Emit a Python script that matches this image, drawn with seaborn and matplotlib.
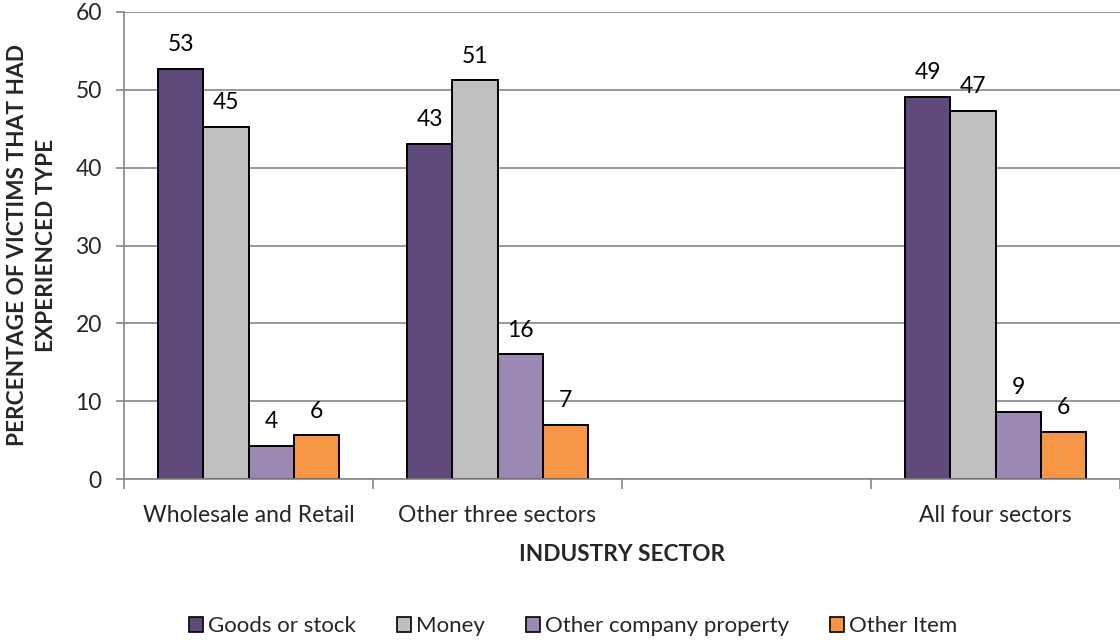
import matplotlib
matplotlib.use("Agg")
import matplotlib.pyplot as plt
import seaborn as sns
import pandas as pd
from matplotlib.ticker import FixedLocator, NullFormatter

# Sector slots along the x axis (the third slot is intentionally left empty)
sectors = ["Wholesale and Retail", "Other three sectors", " ", "All four sectors"]
data_sectors = ["Wholesale and Retail", "Other three sectors", "All four sectors"]
items = ["Goods or stock", "Money", "Other company property", "Other Item"]

goods = [52.7, 43.0, 49.1]
money = [45.2, 51.2, 47.3]
other_property = [4.2, 16.0, 8.6]
other_item = [5.6, 6.9, 6.0]

colors = ["#604A7B", "#BFBFBF", "#9B89B3", "#F79646"]

rows = []
for item, vals in zip(items, [goods, money, other_property, other_item]):
    for sec, v in zip(data_sectors, vals):
        rows.append({"sector": sec, "item": item, "pct": v})
df = pd.DataFrame(rows)

sns.set_theme(style="white")
plt.rcParams["font.family"] = ["Lato", "DejaVu Sans"]

fig = plt.figure(figsize=(11.2, 6.4), dpi=100)
ax = fig.add_axes([124 / 1120, 161 / 640, 996 / 1120, 467 / 640])

sns.barplot(
    data=df, x="sector", y="pct", hue="item",
    order=sectors, hue_order=items, palette=colors,
    width=0.727, edgecolor="black", linewidth=1.4,
    errorbar=None, ax=ax, legend=False, saturation=1,
)

for cont in ax.containers:
    ax.bar_label(cont, fmt="%.0f", padding=10, fontsize=16.5, color="black")

ax.set_ylim(0, 60)
ax.set_xlim(-0.5, len(sectors) - 0.5)
ax.set_yticks(range(0, 61, 10))
ax.tick_params(axis="y", labelsize=16.5, length=6, width=1.2, color="#868686", pad=10, left=True)

# Category boundaries as major ticks, names as unticked minor labels
ax.xaxis.set_major_locator(FixedLocator([i - 0.5 for i in range(len(sectors) + 1)]))
ax.xaxis.set_major_formatter(NullFormatter())
ax.xaxis.set_minor_locator(FixedLocator(range(len(sectors))))
ax.set_xticklabels(sectors, minor=True)
ax.tick_params(axis="x", which="major", length=7, width=1.2, color="#868686", bottom=True)
ax.tick_params(axis="x", which="minor", length=0, labelsize=16.5, pad=19)

ax.yaxis.grid(True, color="#868686", linewidth=1.2)
ax.set_axisbelow(True)
for side in ["top", "right"]:
    ax.spines[side].set_visible(False)
for side in ["left", "bottom"]:
    ax.spines[side].set_color("#868686")
    ax.spines[side].set_linewidth(1.2)

ax.set_xlabel("INDUSTRY SECTOR", fontsize=16.3, fontweight="bold", labelpad=13)
ax.set_ylabel("PERCENTAGE OF VICTIMS THAT HAD\nEXPERIENCED TYPE", fontsize=16.3,
              fontweight="bold", labelpad=13, linespacing=1.5)

handles = [plt.Rectangle((0, 0), 1, 1, facecolor=c, edgecolor="black", linewidth=1.2) for c in colors]
fig.legend(handles, items, loc="center", bbox_to_anchor=(573 / 1120, 1 - 626 / 640),
           ncol=4, frameon=False, fontsize=16, handlelength=0.65, handleheight=0.65,
           handletextpad=0.2, columnspacing=1.85)

fig.savefig("out.png", dpi=100)
